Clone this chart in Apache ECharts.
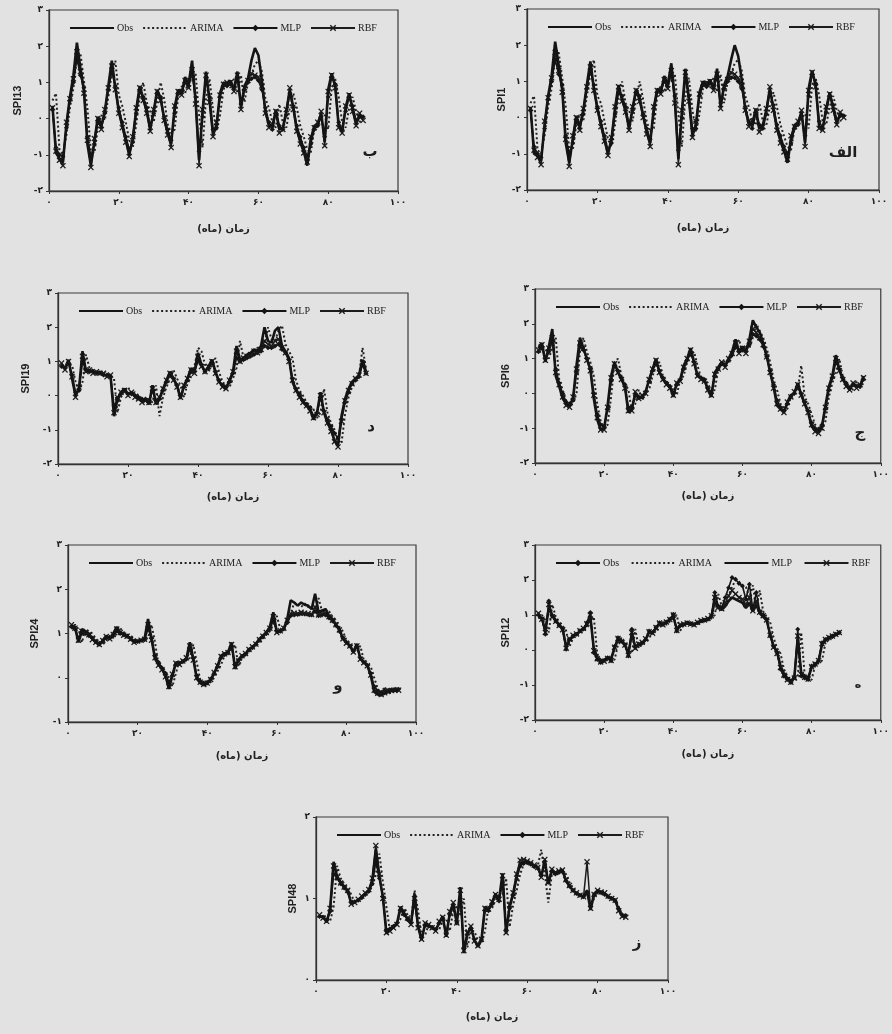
<!DOCTYPE html>
<html><head><meta charset="utf-8">
<script src="https://cdn.jsdelivr.net/npm/echarts@6/dist/echarts.min.js"></script>
<style>html,body{margin:0;padding:0;background:#e2e2e2}#c{width:892px;height:1034px}</style>
</head><body><div id="c"></div>
<script>
// ---------------- data ----------------
const seriesNames = ['Obs', 'ARIMA', 'MLP', 'RBF'];
const xTicks = [0, 20, 40, 60, 80, 100];
const xTitle = 'زمان (ماه)';

// SPI13 (ب)
const spi13Obs = [0.35,-0.95,-1.1,-1.2,-0.15,0.6,1.2,2.1,1.4,0.8, -0.7,-1.3,-0.65,0.05,-0.2,0.2,0.9,1.6,0.85,0.2, -0.2,-0.6,-1.0,-0.55,0.25,0.9,0.55,0.2,-0.3,0.2, 0.8,0.55,0.0,-0.4,-0.7,0.3,0.8,0.7,1.15,0.95, 1.6,0.5,-1.15,0.2,1.3,0.5,-0.45,-0.2,0.7,1.0, 0.95,1.05,0.8,1.3,0.3,0.9,1.1,1.6,1.95,1.75, 1.05,0.2,-0.15,-0.25,0.25,-0.3,-0.25,0.2,0.8,0.3, -0.3,-0.6,-0.9,-1.3,-0.6,-0.2,-0.15,0.15,-0.65,0.8, 1.25,0.9,-0.2,-0.35,0.3,0.7,0.25,-0.15,0.1,0.0];
const spi13Arima = [0.5,0.7,-0.85,-1.0,-0.45,0.3,0.85,1.7,1.8,1.05, 0.3,-0.9,-0.95,-0.25,0.1,-0.05,0.6,1.25,1.6,0.65, 0.35,-0.1,-0.6,-0.8,-0.15,0.6,1.0,0.45,0.2,-0.1, 0.45,1.0,0.55,-0.15,-0.4,-0.3,0.6,0.9,0.7,1.1, 1.05,1.25,0.1,-0.8,0.55,1.1,0.25,-0.35,0.1,0.8, 1.0,0.85,1.1,0.7,1.2,0.45,1.0,1.2,1.5,1.6, 1.3,0.55,0.3,-0.1,-0.25,0.4,-0.1,-0.25,0.3,0.7, 0.3,-0.2,-0.5,-0.85,-0.95,-0.3,-0.1,0.0,0.1,-0.3, 0.85,1.1,0.6,-0.1,-0.25,0.3,0.6,0.2,-0.1,0.1];
const spi13Mlp = [0.25,-0.8,-1.0,-1.05,-0.25,0.5,1.0,1.65,1.2,0.85, -0.5,-1.05,-0.7,-0.1,-0.25,0.15,0.8,1.3,0.9,0.3, -0.1,-0.5,-0.85,-0.65,0.15,0.75,0.6,0.3,-0.2,0.15, 0.7,0.6,0.05,-0.3,-0.6,0.15,0.7,0.75,1.0,0.9, 1.25,0.6,-0.9,0.05,1.1,0.6,-0.3,-0.25,0.6,0.9, 0.9,0.95,0.85,1.1,0.4,0.8,1.0,1.1,1.15,1.05, 0.8,0.3,-0.1,-0.3,0.15,-0.2,-0.3,0.1,0.7,0.35, -0.2,-0.5,-0.8,-1.05,-0.7,-0.3,-0.2,0.05,-0.5,0.6, 1.15,0.95,-0.1,-0.3,0.2,0.6,0.35,-0.05,0.05,0.05];
const spi13Rbf = [0.3,-0.9,-1.15,-1.3,-0.1,0.55,1.1,1.85,1.3,0.7, -0.6,-1.35,-0.55,0.0,-0.3,0.25,0.85,1.45,0.8,0.15, -0.25,-0.65,-1.05,-0.5,0.3,0.85,0.5,0.15,-0.35,0.25, 0.75,0.5,-0.05,-0.45,-0.8,0.35,0.75,0.65,1.05,0.85, 1.35,0.4,-1.3,0.25,1.2,0.45,-0.5,-0.1,0.65,0.95, 1.0,1.0,0.75,1.2,0.25,0.85,1.05,1.25,1.2,1.15, 0.9,0.15,-0.25,-0.15,0.2,-0.4,-0.3,0.25,0.85,0.25, -0.35,-0.7,-0.95,-1.2,-0.5,-0.25,-0.1,0.2,-0.75,0.75, 1.2,0.85,-0.25,-0.4,0.35,0.65,0.2,-0.2,0.15,-0.05];

// SPI1 (الف)
const spi1Obs = [0.3,-1.0,-1.05,-1.2,-0.2,0.6,1.15,2.1,1.45,0.8, -0.7,-1.25,-0.6,0.05,-0.25,0.2,0.9,1.55,0.8,0.25, -0.2,-0.6,-1.0,-0.6,0.25,0.9,0.5,0.2,-0.3,0.25, 0.8,0.5,0.05,-0.4,-0.7,0.25,0.8,0.7,1.15,0.9, 1.5,0.5,-1.15,0.15,1.35,0.5,-0.5,-0.2,0.7,1.0, 0.9,1.05,0.8,1.35,0.3,0.9,1.15,1.6,2.0,1.7, 1.05,0.25,-0.15,-0.2,0.25,-0.3,-0.2,0.2,0.8,0.25, -0.3,-0.6,-0.9,-1.25,-0.6,-0.2,-0.15,0.15,-0.7,0.8, 1.3,0.9,-0.25,-0.3,0.25,0.7,0.25,-0.15,0.1,0.05];
const spi1Arima = [0.4,0.6,-0.9,-1.0,-0.5,0.3,0.8,1.7,1.8,1.1, 0.3,-0.9,-0.9,-0.2,0.1,-0.1,0.6,1.2,1.6,0.6, 0.4,-0.1,-0.6,-0.8,-0.2,0.6,1.0,0.4,0.2,-0.1, 0.5,1.0,0.5,-0.1,-0.4,-0.3,0.6,0.9,0.7,1.1, 1.0,1.2,0.1,-0.8,0.6,1.1,0.2,-0.4,0.1,0.8, 1.0,0.8,1.1,0.7,1.2,0.4,1.0,1.2,1.5,1.6, 1.3,0.6,0.3,-0.1,-0.2,0.4,-0.1,-0.2,0.3,0.7, 0.3,-0.2,-0.5,-0.8,-0.9,-0.3,-0.1,0.0,0.1,-0.3, 0.9,1.1,0.6,-0.1,-0.2,0.3,0.6,0.2,-0.1,0.1];
const spi1Mlp = [0.2,-0.8,-1.0,-1.1,-0.3,0.5,1.0,1.6,1.2,0.9, -0.5,-1.0,-0.7,-0.1,-0.3,0.1,0.8,1.3,0.9,0.3, -0.1,-0.5,-0.9,-0.7,0.1,0.7,0.6,0.3,-0.2,0.2, 0.7,0.6,0.1,-0.3,-0.6,0.1,0.7,0.75,1.0,0.85, 1.2,0.6,-0.9,0.0,1.1,0.6,-0.3,-0.3,0.6,0.9, 0.85,0.95,0.85,1.1,0.4,0.8,1.0,1.1,1.1,1.0, 0.8,0.3,-0.1,-0.3,0.1,-0.2,-0.3,0.1,0.7,0.35, -0.2,-0.5,-0.8,-1.0,-0.7,-0.3,-0.2,0.05,-0.5,0.6, 1.2,0.95,-0.1,-0.3,0.15,0.6,0.35,-0.05,0.05,0.05];
const spi1Rbf = [0.25,-0.9,-1.1,-1.3,-0.1,0.55,1.1,1.8,1.3,0.7, -0.6,-1.35,-0.5,0.0,-0.35,0.25,0.85,1.4,0.75,0.2, -0.25,-0.65,-1.05,-0.55,0.3,0.85,0.45,0.15,-0.35,0.3, 0.75,0.45,0.0,-0.45,-0.8,0.3,0.75,0.65,1.05,0.8, 1.3,0.4,-1.3,0.2,1.25,0.45,-0.55,-0.1,0.65,0.95, 0.95,1.0,0.75,1.2,0.25,0.85,1.05,1.25,1.2,1.1, 0.9,0.2,-0.25,-0.1,0.2,-0.4,-0.25,0.25,0.85,0.2, -0.35,-0.7,-0.95,-1.15,-0.5,-0.25,-0.1,0.2,-0.8,0.75, 1.25,0.85,-0.3,-0.35,0.3,0.65,0.2,-0.2,0.15,0.0];

// SPI19 (د)
const spi19Obs = [0.9,0.8,1.05,0.5,0.0,0.2,1.3,0.7,0.75,0.7, 0.65,0.7,0.6,0.6,0.6,-0.6,-0.1,0.1,0.2,0.05, 0.1,0.0,-0.1,-0.15,-0.1,-0.25,0.3,-0.25,-0.1,0.2, 0.45,0.7,0.5,0.3,-0.1,0.3,0.5,0.8,0.7,1.25, 0.9,0.7,0.85,1.05,0.7,0.4,0.3,0.2,0.45,0.7, 1.45,1.05,1.1,1.2,1.25,1.35,1.3,1.45,2.0,1.6, 1.55,1.9,2.0,1.45,1.3,1.1,0.4,0.15,0.0,-0.2, -0.3,-0.4,-0.7,-0.5,0.1,-0.5,-0.8,-1.0,-1.3,-1.45, -0.6,-0.1,0.2,0.4,0.5,0.6,1.05,0.7];
const spi19Arima = [0.9,0.85,0.9,0.9,0.4,0.1,0.4,1.2,0.8,0.75, 0.7,0.65,0.7,0.6,0.6,0.5,-0.5,-0.05,0.15,0.25, 0.05,0.1,0.0,-0.1,-0.15,-0.1,-0.2,0.3,-0.6,-0.05, 0.25,0.5,0.75,0.5,0.3,-0.05,0.35,0.55,0.85,1.4, 1.3,0.9,0.7,0.9,1.1,0.7,0.4,0.3,0.25,0.5, 0.8,1.6,1.1,1.15,1.25,1.3,1.4,1.35,1.5,2.0, 1.65,1.6,1.9,2.05,1.5,1.3,1.1,0.45,0.15,0.0, -0.2,-0.3,-0.4,-0.65,-0.5,0.2,-0.5,-0.8,-1.0,-1.3, -1.4,-0.55,-0.05,0.25,0.45,0.55,1.4,0.8];
const spi19Mlp = [0.85,0.8,0.95,0.6,0.1,0.15,1.0,0.75,0.7,0.7, 0.65,0.65,0.6,0.6,0.55,-0.3,-0.15,0.05,0.15,0.05, 0.05,0.0,-0.05,-0.1,-0.1,-0.2,0.15,-0.15,-0.1,0.15, 0.4,0.6,0.5,0.3,0.0,0.25,0.45,0.7,0.7,1.0, 0.9,0.7,0.8,0.95,0.7,0.45,0.3,0.25,0.4,0.65, 1.1,1.0,1.05,1.1,1.15,1.2,1.25,1.3,1.45,1.4, 1.4,1.45,1.5,1.35,1.25,1.05,0.5,0.2,0.05,-0.15, -0.25,-0.35,-0.6,-0.5,-0.05,-0.45,-0.7,-0.9,-1.1,-1.25, -0.7,-0.2,0.1,0.35,0.45,0.55,0.9,0.65];
const spi19Rbf = [0.95,0.75,1.0,0.55,-0.05,0.25,1.15,0.7,0.75,0.65, 0.7,0.65,0.65,0.55,0.6,-0.5,-0.05,0.1,0.15,0.0, 0.1,-0.05,-0.1,-0.2,-0.15,-0.2,0.2,-0.2,-0.05,0.2, 0.45,0.65,0.45,0.25,-0.05,0.3,0.5,0.75,0.65,1.15, 0.85,0.7,0.85,1.0,0.65,0.4,0.25,0.2,0.45,0.7, 1.3,1.0,1.1,1.15,1.2,1.3,1.25,1.35,1.6,1.5, 1.45,1.6,1.65,1.4,1.25,1.0,0.45,0.15,-0.05,-0.2, -0.3,-0.45,-0.65,-0.55,0.0,-0.5,-0.8,-1.05,-1.35,-1.5, -0.75,-0.15,0.15,0.35,0.5,0.6,0.95,0.65];

// SPI6 (ج)
const spi6Obs = [1.3,1.45,0.9,1.35,1.85,0.5,0.2,-0.15,-0.3,-0.35, -0.15,0.8,1.6,1.3,1.0,0.7,-0.15,-0.75,-1.05,-1.0, -0.35,0.5,0.9,0.6,0.4,0.2,-0.55,-0.45,0.0,-0.15, -0.1,0.05,0.4,0.7,1.0,0.6,0.4,0.3,0.2,-0.1, 0.3,0.4,0.8,1.0,1.3,0.9,0.5,0.45,0.4,0.1, -0.1,0.6,0.75,0.9,0.8,1.0,1.2,1.55,1.2,1.35, 1.2,1.55,2.1,1.9,1.75,1.45,1.1,0.6,0.2,-0.35, -0.45,-0.55,-0.25,-0.05,0.0,0.3,-0.05,-0.3,-0.55,-0.95, -1.05,-1.1,-0.95,-0.35,0.2,0.5,1.1,0.7,0.4,0.25, 0.1,0.3,0.2,0.2,0.5];
const spi6Arima = [1.4,1.35,1.3,1.0,1.3,1.6,0.4,0.1,-0.2,-0.35, -0.3,0.0,1.2,1.6,1.2,0.9,0.5,-0.3,-0.8,-1.0, -0.9,-0.1,0.9,1.0,0.5,0.3,0.1,-0.5,-0.3,0.1, -0.2,0.0,0.1,0.5,0.8,0.9,0.5,0.35,0.25,0.1, -0.05,0.4,0.5,0.9,1.1,1.2,0.8,0.45,0.4,0.3, 0.05,0.1,0.7,0.8,0.95,0.85,1.1,1.3,1.55,1.15, 1.4,1.3,1.6,2.0,1.8,1.6,1.3,0.9,0.4,0.1, -0.3,-0.4,-0.45,-0.1,0.0,0.1,0.8,-0.1,-0.3,-0.6, -0.9,-1.0,-1.05,-0.8,-0.1,0.3,0.6,1.0,0.5,0.3, 0.2,0.1,0.35,0.15,0.3];
const spi6Mlp = [1.2,1.3,1.0,1.2,1.5,0.7,0.3,0.0,-0.25,-0.3, -0.2,0.6,1.35,1.25,1.0,0.7,0.0,-0.6,-0.9,-0.95, -0.45,0.35,0.8,0.65,0.45,0.25,-0.4,-0.4,-0.05,-0.1, -0.1,0.05,0.35,0.65,0.9,0.65,0.45,0.3,0.2,0.0, 0.25,0.4,0.7,0.95,1.15,0.9,0.55,0.45,0.4,0.15, 0.0,0.5,0.7,0.85,0.8,0.95,1.1,1.35,1.2,1.25, 1.2,1.4,1.7,1.65,1.55,1.35,1.05,0.65,0.25,-0.2, -0.4,-0.5,-0.3,-0.1,0.0,0.2,0.0,-0.25,-0.5,-0.85, -1.0,-1.05,-0.9,-0.45,0.1,0.45,0.9,0.7,0.45,0.3, 0.15,0.25,0.2,0.2,0.4];
const spi6Rbf = [1.25,1.4,0.95,1.3,1.6,0.6,0.25,-0.1,-0.35,-0.4, -0.1,0.7,1.45,1.3,0.95,0.65,-0.05,-0.7,-1.05,-1.05, -0.4,0.45,0.85,0.6,0.4,0.15,-0.5,-0.5,0.05,-0.15, -0.05,0.0,0.4,0.7,0.95,0.6,0.4,0.25,0.15,-0.05, 0.3,0.35,0.75,1.0,1.25,0.85,0.5,0.4,0.35,0.1, -0.05,0.55,0.7,0.9,0.75,1.0,1.15,1.45,1.15,1.3, 1.15,1.5,1.85,1.75,1.6,1.4,1.05,0.6,0.15,-0.3, -0.45,-0.55,-0.25,-0.1,0.05,0.25,-0.05,-0.3,-0.55,-0.9, -1.1,-1.15,-1.0,-0.4,0.15,0.5,1.0,0.65,0.4,0.2, 0.1,0.3,0.15,0.25,0.45];

// SPI24 (و)
const spi24Obs = [1.18,1.15,0.8,1.1,1.05,1.0,0.88,0.8,0.73,0.85, 0.95,0.88,1.0,1.15,1.03,0.98,0.95,0.88,0.8,0.82, 0.84,0.88,1.33,0.88,0.43,0.3,0.2,0.05,-0.25,0.05, 0.35,0.32,0.38,0.43,0.8,0.43,-0.02,-0.12,-0.17,-0.13, -0.05,0.1,0.28,0.5,0.55,0.58,0.8,0.2,0.4,0.5, 0.54,0.65,0.7,0.77,0.88,0.95,1.03,1.15,1.48,1.03, 1.05,1.1,1.33,1.75,1.7,1.63,1.7,1.65,1.63,1.55, 1.9,1.48,1.52,1.55,1.4,1.33,1.2,1.1,0.88,0.8, 0.73,0.58,0.77,0.43,0.35,0.28,0.05,-0.32,-0.38,-0.4, -0.36,-0.32,-0.3,-0.29,-0.29];
const spi24Arima = [1.1,1.2,1.1,0.8,1.1,1.05,1.0,0.88,0.8,0.75, 0.85,0.95,0.9,1.0,1.12,1.03,0.98,0.95,0.88,0.8, 0.82,0.85,0.9,1.2,0.8,0.3,0.25,0.15,0.0,-0.2, 0.1,0.4,0.35,0.4,0.45,0.75,0.35,-0.05,-0.12,-0.15, -0.1,0.0,0.15,0.3,0.5,0.6,0.6,0.75,0.25,0.45, 0.52,0.58,0.68,0.72,0.8,0.9,0.98,1.05,1.2,1.4, 1.1,1.15,1.2,1.45,1.7,1.65,1.6,1.68,1.6,1.58, 1.5,1.8,1.5,1.55,1.5,1.38,1.3,1.15,1.05,0.85, 0.78,0.7,0.6,0.72,0.4,0.33,0.25,0.0,-0.25,-0.35, -0.2,-0.38,-0.3,-0.25,-0.3];
const spi24Mlp = [1.15,1.1,0.9,1.0,1.0,0.95,0.9,0.82,0.78,0.82, 0.9,0.9,0.95,1.05,1.0,0.97,0.93,0.88,0.83,0.82, 0.84,0.86,1.1,0.9,0.5,0.35,0.22,0.1,-0.1,0.05, 0.3,0.32,0.36,0.42,0.65,0.45,0.05,-0.08,-0.12,-0.1, -0.03,0.1,0.25,0.45,0.52,0.56,0.7,0.3,0.4,0.48, 0.53,0.62,0.68,0.75,0.85,0.92,1.0,1.1,1.3,1.05, 1.05,1.1,1.25,1.4,1.42,1.43,1.45,1.44,1.43,1.42, 1.5,1.4,1.42,1.42,1.35,1.28,1.18,1.05,0.9,0.8, 0.72,0.6,0.7,0.45,0.35,0.28,0.1,-0.2,-0.3,-0.33, -0.3,-0.28,-0.27,-0.26,-0.26];
const spi24Rbf = [1.2,1.12,0.85,1.05,1.02,0.97,0.86,0.8,0.75,0.84, 0.93,0.88,0.98,1.1,1.02,0.96,0.94,0.87,0.8,0.83, 0.85,0.87,1.2,0.85,0.45,0.28,0.18,0.02,-0.2,0.08, 0.33,0.3,0.38,0.45,0.72,0.4,0.0,-0.1,-0.15,-0.12, -0.04,0.12,0.27,0.48,0.54,0.57,0.75,0.25,0.38,0.5, 0.55,0.64,0.7,0.76,0.86,0.94,1.02,1.12,1.38,1.02, 1.06,1.12,1.3,1.45,1.46,1.45,1.48,1.46,1.45,1.43, 1.6,1.42,1.45,1.46,1.38,1.3,1.2,1.08,0.88,0.78, 0.72,0.58,0.72,0.42,0.34,0.27,0.06,-0.28,-0.35,-0.38, -0.34,-0.3,-0.29,-0.28,-0.28];

// SPI12 (ه)
const spi12Obs = [1.0,0.9,0.45,1.4,0.97,0.83,0.7,0.6,0.02,0.3, 0.4,0.45,0.55,0.6,0.78,1.07,-0.08,-0.27,-0.36,-0.3, -0.22,-0.31,0.1,0.35,0.25,0.16,-0.17,0.59,0.07,0.16, 0.2,0.3,0.54,0.5,0.65,0.78,0.73,0.8,0.88,1.02, 0.54,0.7,0.73,0.78,0.75,0.73,0.78,0.83,0.85,0.88, 0.97,1.64,1.26,1.21,1.5,1.78,2.07,2.02,1.9,1.83, 1.45,1.88,1.16,1.64,1.11,1.0,0.88,0.4,0.1,-0.08, -0.55,-0.75,-0.84,-0.93,-0.79,0.59,-0.74,-0.8,-0.84,-0.46, -0.4,-0.31,0.21,0.3,0.35,0.4,0.45,0.5];
const spi12Arima = [0.9,1.0,0.85,0.5,1.3,0.95,0.8,0.68,0.55,0.1, 0.35,0.42,0.48,0.56,0.62,0.8,0.95,-0.1,-0.3,-0.35, -0.28,-0.22,-0.28,0.15,0.35,0.22,0.12,-0.1,0.6,0.05, 0.18,0.22,0.32,0.55,0.5,0.66,0.8,0.72,0.82,0.9, 1.0,0.55,0.72,0.75,0.79,0.74,0.72,0.8,0.84,0.86, 0.9,1.0,1.6,1.25,1.22,1.55,1.8,2.0,1.95,1.85, 1.8,1.5,1.85,1.2,1.7,1.1,0.95,0.8,0.35,0.05, -0.1,-0.55,-0.75,-0.85,-0.9,-0.75,0.5,-0.72,-0.82,-0.85, -0.45,-0.38,-0.3,0.2,0.3,0.35,0.42,0.46];
const spi12Mlp = [0.95,0.9,0.55,1.2,1.0,0.85,0.72,0.6,0.1,0.28, 0.38,0.45,0.52,0.6,0.72,0.95,0.05,-0.2,-0.3,-0.28, -0.22,-0.25,0.05,0.3,0.25,0.15,-0.1,0.45,0.1,0.15, 0.2,0.3,0.5,0.5,0.62,0.75,0.73,0.8,0.86,0.95, 0.6,0.7,0.73,0.76,0.75,0.74,0.77,0.82,0.84,0.87, 0.95,1.4,1.2,1.15,1.25,1.4,1.5,1.45,1.4,1.35, 1.2,1.35,1.1,1.3,1.05,0.95,0.85,0.45,0.12,-0.05, -0.45,-0.68,-0.8,-0.88,-0.78,0.3,-0.65,-0.75,-0.8,-0.5, -0.42,-0.32,0.15,0.28,0.34,0.38,0.43,0.48];
const spi12Rbf = [1.05,0.88,0.5,1.3,0.95,0.82,0.7,0.58,0.05,0.32, 0.42,0.46,0.55,0.62,0.75,1.0,-0.02,-0.25,-0.34,-0.32, -0.24,-0.3,0.08,0.33,0.24,0.14,-0.15,0.5,0.05,0.17, 0.22,0.32,0.52,0.48,0.64,0.77,0.72,0.8,0.87,1.0, 0.56,0.72,0.74,0.77,0.74,0.72,0.79,0.84,0.86,0.9, 0.98,1.5,1.22,1.18,1.35,1.55,1.7,1.6,1.5,1.45, 1.3,1.5,1.12,1.4,1.08,0.98,0.86,0.42,0.08,-0.1, -0.5,-0.72,-0.85,-0.92,-0.8,0.4,-0.7,-0.78,-0.83,-0.48, -0.4,-0.3,0.18,0.3,0.36,0.4,0.45,0.5];

// SPI48 (ز)
const spi48Obs = [0.78,0.78,0.71,0.86,1.45,1.27,1.2,1.15,1.1,0.94, 0.96,0.98,1.02,1.06,1.1,1.22,1.61,1.27,1.02,0.57, 0.62,0.65,0.69,0.9,0.82,0.75,0.69,1.06,0.65,0.49, 0.69,0.67,0.65,0.61,0.7,0.78,0.53,0.82,0.94,0.69, 1.14,0.33,0.57,0.65,0.49,0.41,0.49,0.9,0.86,0.95, 1.06,0.98,1.31,0.57,0.9,1.06,1.27,1.43,1.45,1.45, 1.43,1.4,1.39,1.27,1.47,1.18,1.35,1.31,1.33,1.35, 1.22,1.15,1.1,1.06,1.04,1.02,1.1,0.86,1.06,1.1, 1.08,1.06,1.02,1.0,0.98,0.86,0.78,0.78];
const spi48Arima = [0.78,0.79,0.76,0.72,0.9,1.4,1.25,1.18,1.13,1.05, 0.95,0.97,1.0,1.04,1.08,1.15,1.3,1.55,1.2,0.9, 0.6,0.65,0.68,0.75,0.88,0.8,0.72,1.1,0.85,0.55, 0.55,0.68,0.66,0.64,0.62,0.72,0.75,0.6,0.85,0.9, 0.8,1.0,0.4,0.6,0.6,0.48,0.45,0.6,0.9,0.88, 0.98,1.04,1.05,1.25,0.65,0.92,1.1,1.3,1.42,1.46, 1.45,1.42,1.4,1.6,1.3,0.95,1.3,1.3,1.33,1.34, 1.3,1.2,1.13,1.08,1.05,1.03,1.05,0.9,1.0,1.08, 1.08,1.06,1.04,1.01,0.99,0.9,0.8,0.78];
const spi48Mlp = [0.78,0.77,0.73,0.84,1.3,1.25,1.18,1.13,1.08,0.95, 0.96,0.98,1.01,1.05,1.09,1.18,1.45,1.25,1.02,0.62, 0.63,0.66,0.7,0.86,0.8,0.74,0.7,0.95,0.66,0.52, 0.67,0.66,0.64,0.62,0.7,0.76,0.56,0.8,0.9,0.7, 1.0,0.4,0.56,0.63,0.5,0.43,0.5,0.85,0.85,0.93, 1.03,0.97,1.2,0.62,0.88,1.04,1.24,1.4,1.43,1.44, 1.42,1.39,1.37,1.28,1.42,1.2,1.33,1.3,1.32,1.33, 1.22,1.15,1.1,1.06,1.04,1.02,1.08,0.9,1.04,1.08, 1.07,1.05,1.02,1.0,0.97,0.87,0.8,0.79];
const spi48Rbf = [0.8,0.76,0.72,0.88,1.4,1.26,1.19,1.14,1.1,0.93, 0.95,0.99,1.03,1.07,1.11,1.25,1.65,1.3,1.0,0.58, 0.6,0.64,0.68,0.88,0.83,0.76,0.68,1.0,0.64,0.5, 0.7,0.68,0.64,0.6,0.72,0.77,0.55,0.84,0.95,0.7, 1.1,0.36,0.58,0.66,0.48,0.42,0.5,0.88,0.87,0.96, 1.05,0.99,1.28,0.58,0.92,1.07,1.3,1.47,1.48,1.46, 1.44,1.41,1.38,1.26,1.48,1.2,1.36,1.32,1.34,1.35, 1.23,1.16,1.1,1.07,1.04,1.02,1.45,0.88,1.05,1.1, 1.08,1.07,1.03,1.0,0.98,0.85,0.78,0.77];

// ---------------- panel table (built from the arrays above) ----------------
const panels = [
  {label:'SPI13', letter:'ب',   yMin:-2, yMax:3, obs:spi13Obs, arima:spi13Arima, mlp:spi13Mlp, rbf:spi13Rbf},
  {label:'SPI1',  letter:'الف', yMin:-2, yMax:3, obs:spi1Obs,  arima:spi1Arima,  mlp:spi1Mlp,  rbf:spi1Rbf},
  {label:'SPI19', letter:'د',   yMin:-2, yMax:3, obs:spi19Obs, arima:spi19Arima, mlp:spi19Mlp, rbf:spi19Rbf},
  {label:'SPI6',  letter:'ج',   yMin:-2, yMax:3, obs:spi6Obs,  arima:spi6Arima,  mlp:spi6Mlp,  rbf:spi6Rbf},
  {label:'SPI24', letter:'و',   yMin:-1, yMax:3, obs:spi24Obs, arima:spi24Arima, mlp:spi24Mlp, rbf:spi24Rbf},
  {label:'SPI12', letter:'ه',   yMin:-2, yMax:3, obs:spi12Obs, arima:spi12Arima, mlp:spi12Mlp, rbf:spi12Rbf, swapped:true},
  {label:'SPI48', letter:'ز',   yMin:0,  yMax:2, obs:spi48Obs, arima:spi48Arima, mlp:spi48Mlp, rbf:spi48Rbf}
];

// ---------------- layout (pixels) ----------------
const layout = [
  {left:49,  top:10,  width:349, height:181, yGap:26, xGap:33, lx:370, ly:152, ls:15},
  {left:527, top:9,   width:352, height:181, yGap:20, xGap:33, lx:843, ly:153, ls:15},
  {left:58,  top:293, width:350, height:171, yGap:27, xGap:28, lx:371, ly:427, ls:15},
  {left:535, top:289, width:349, height:174, yGap:24, xGap:28, lx:860, ly:433, ls:15},
  {left:68,  top:545, width:348, height:177, yGap:28, xGap:29, lx:338, ly:686, ls:15},
  {left:535, top:545, width:349, height:175, yGap:24, xGap:29, lx:858, ly:685, ls:11},
  {left:316, top:817, width:352, height:163, yGap:18, xGap:32, lx:637, ly:943, ls:15}
];

const fa = v => String(v).replace(/\d/g, d => '۰۱۲۳۴۵۶۷۸۹'[+d]);
const pts = arr => arr.map((v, i) => [i + 1, v]);
const XSYM = 'path://M0,1.5L1.5,0L5,3.5L8.5,0L10,1.5L6.5,5L10,8.5L8.5,10L5,6.5L1.5,10L0,8.5L3.5,5Z';
const INK = '#141414';
const LATIN = '"Liberation Serif", "DejaVu Serif", serif';
const FARSI = '"DejaVu Sans", "Noto Sans", sans-serif';
const HIDE = {opacity:0, color:'rgba(0,0,0,0)', borderWidth:0};

const grid = [], xAxis = [], yAxis = [], series = [], legend = [], graphic = [];
panels.forEach((p, i) => {
  const L = layout[i];
  const sfx = p.swapped ? ' ' : '';
  const names = seriesNames.map(n => n + sfx);
  const obsMarked = !!p.swapped;
  grid.push({left:L.left, top:L.top, width:L.width, height:L.height, show:true,
    borderColor:'#3a3a3a', borderWidth:1.2, backgroundColor:'transparent'});
  xAxis.push({gridIndex:i, type:'value', min:xTicks[0], max:xTicks[xTicks.length-1], interval:20,
    axisLine:{show:true, onZero:false, lineStyle:{color:'#333', width:1.3}},
    axisTick:{show:true, length:3, lineStyle:{color:'#333'}}, splitLine:{show:false},
    axisLabel:{formatter:fa, fontSize:9, color:'#222', margin:7, fontFamily:FARSI, fontWeight:'bold'},
    name:xTitle, nameLocation:'middle', nameGap:L.xGap,
    nameTextStyle:{fontSize:10, fontWeight:'bold', color:'#222', fontFamily:FARSI}});
  yAxis.push({gridIndex:i, type:'value', min:p.yMin, max:p.yMax, interval:1,
    axisLine:{show:true, onZero:false, lineStyle:{color:'#333', width:1.3}},
    axisTick:{show:true, length:3, lineStyle:{color:'#333'}}, splitLine:{show:false},
    axisLabel:{formatter:fa, fontSize:9, color:'#222', margin:6, fontFamily:FARSI, fontWeight:'bold'},
    name:p.label, nameLocation:'middle', nameGap:L.yGap, nameRotate:90,
    nameTextStyle:{fontSize:11, fontWeight:'bold', color:'#222', fontFamily:'"Liberation Sans", Arial, sans-serif'}});
  const base = {type:'line', xAxisIndex:i, yAxisIndex:i, animation:false, silent:true, showAllSymbol:true};
  series.push(Object.assign({}, base, {name:names[0], data:pts(p.obs), z:5,
    symbol: obsMarked ? 'diamond' : 'none', symbolSize:5,
    lineStyle:{color:INK, width: obsMarked ? 1.6 : 2.6}, itemStyle:{color:INK}}));
  series.push(Object.assign({}, base, {name:names[1], data:pts(p.arima), z:3, symbol:'none',
    lineStyle:{color:'#222', width:2, type:[2, 2.5]}, itemStyle:{color:'#222'}}));
  series.push(Object.assign({}, base, {name:names[2], data:pts(p.mlp), z:4,
    symbol: obsMarked ? 'none' : 'diamond', symbolSize:5,
    lineStyle:{color:INK, width: obsMarked ? 2.6 : 1.6}, itemStyle:{color:INK}}));
  series.push(Object.assign({}, base, {name:names[3], data:pts(p.rbf), z:4, symbol:XSYM, symbolSize:6,
    lineStyle:{color:'#1c1c1c', width:1.5}, itemStyle:{color:'#1c1c1c'}}));
  const legendData = [
    obsMarked ? {name:names[0]} : {name:names[0], itemStyle:HIDE},
    {name:names[1], itemStyle:HIDE},
    obsMarked ? {name:names[2], itemStyle:HIDE} : {name:names[2]},
    {name:names[3]}
  ];
  legend.push({data:legendData, left:L.left + 20, top:L.top + 13, padding:0, itemWidth:44, itemHeight:8,
    itemGap:9, selectedMode:false, textStyle:{fontSize:10, color:'#222', fontFamily:LATIN, padding:[0,0,0,-2]}});
  graphic.push({type:'text', x:L.lx, y:L.ly, silent:true,
    style:{text:p.letter, fill:'#1e1e1e', font:'bold ' + L.ls + 'px ' + FARSI,
      textAlign:'center', textVerticalAlign:'middle'}});
});

const chart = echarts.init(document.getElementById('c'), null, {renderer:'canvas'});
chart.setOption({backgroundColor:'#e2e2e2', animation:false, grid, xAxis, yAxis, series, legend, graphic});
</script></body></html>
